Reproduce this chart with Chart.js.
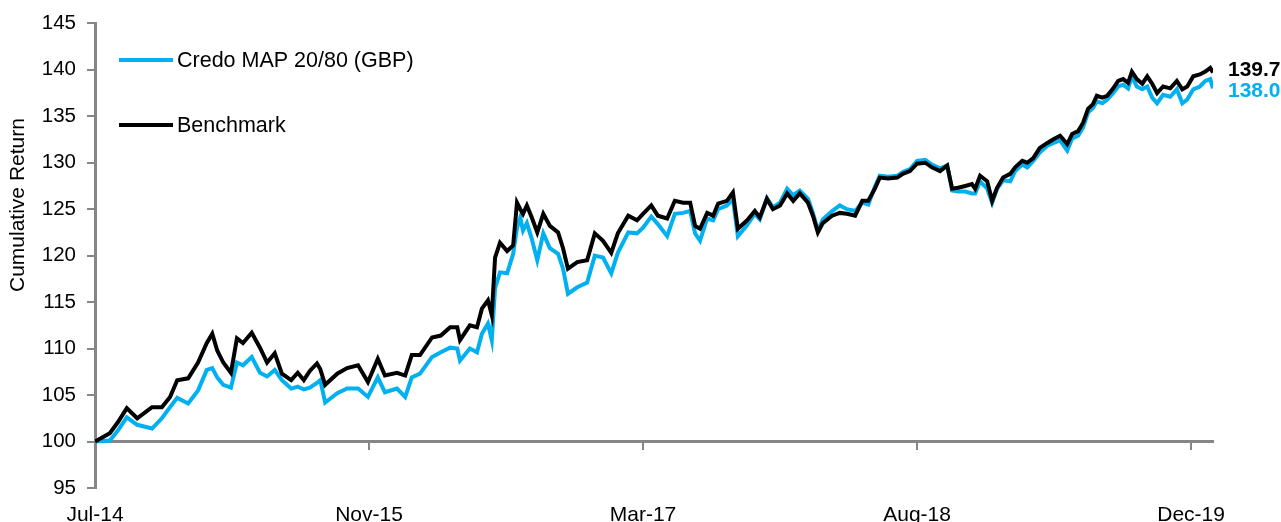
<!DOCTYPE html>
<html>
<head>
<meta charset="utf-8">
<title>Cumulative Return</title>
<script src="https://cdn.jsdelivr.net/npm/chart.js@4.4.1/dist/chart.umd.min.js"></script>
<style>
  html, body { margin: 0; padding: 0; background: #fff; }
  #wrap { width: 1281px; height: 522px; }
</style>
</head>
<body>
<div id="wrap"><canvas id="returnChart" width="1281" height="522"></canvas></div>
<script>
// days since 1 Jul 2014
const days = [0, 27, 42, 58, 77, 104, 122, 137, 150, 170, 188, 204, 214, 223, 234, 248, 259, 270, 286, 301,
    314, 328, 341, 358, 370, 381, 392, 405, 411, 420, 442, 460, 480, 498, 516, 529, 551, 566, 578, 593,
    615, 631, 648, 661, 666, 684, 697, 706, 717, 724, 730, 739, 752, 763, 770, 776, 781, 788, 797, 807,
    818, 830, 845, 854, 863, 880, 898, 912, 927, 942, 954, 973, 989, 1000, 1015, 1027, 1044, 1058, 1073, 1086,
    1095, 1104, 1117, 1128, 1137, 1153, 1164, 1173, 1190, 1204, 1213, 1226, 1237, 1250, 1263, 1274, 1286, 1301, 1310, 1319,
    1328, 1345, 1359, 1372, 1387, 1400, 1411, 1423, 1432, 1447, 1464, 1474, 1487, 1500, 1515, 1527, 1542, 1555, 1564, 1575,
    1588, 1600, 1606, 1615, 1628, 1637, 1646, 1657, 1670, 1679, 1692, 1701, 1712, 1724, 1737, 1748, 1761, 1774, 1783, 1794,
    1803, 1812, 1821, 1828, 1838, 1847, 1858, 1867, 1876, 1885, 1892, 1901, 1911, 1920, 1929, 1938, 1949, 1962, 1974, 1984,
    1993, 2004, 2016, 2026, 2035, 2040];

const fund = [100.0, 100.1, 101.2, 102.6, 101.8, 101.4, 102.5, 103.7, 104.7, 104.1, 105.5, 107.7, 107.9, 106.9, 106.1, 105.8, 108.5, 108.2, 109.1, 107.4,
    107.0, 107.7, 106.6, 105.7, 105.9, 105.6, 105.8, 106.3, 106.6, 104.2, 105.2, 105.7, 105.7, 104.8, 106.9, 105.3, 105.7, 104.8, 106.9, 107.3,
    109.1, 109.6, 110.1, 110.0, 108.7, 110.0, 109.6, 111.6, 112.7, 110.9, 116.5, 118.2, 118.1, 120.2, 123.0, 124.1, 122.7, 123.5, 121.8, 119.5,
    122.4, 120.8, 120.2, 118.6, 115.9, 116.6, 117.1, 120.0, 119.8, 118.1, 120.3, 122.5, 122.4, 123.0, 124.2, 123.4, 122.1, 124.5, 124.6, 124.8,
    122.4, 121.6, 124.0, 123.8, 125.0, 125.4, 126.1, 122.1, 123.3, 124.5, 123.9, 126.2, 125.2, 125.7, 127.2, 126.5, 127.0, 126.1, 124.6, 122.7,
    123.9, 124.8, 125.4, 125.0, 124.8, 125.7, 125.5, 127.4, 128.6, 128.5, 128.6, 129.0, 129.3, 130.2, 130.3, 129.8, 129.4, 129.7, 127.0, 126.9,
    126.9, 126.7, 126.7, 128.0, 127.2, 125.7, 127.2, 128.1, 128.0, 129.1, 129.8, 129.5, 130.2, 131.1, 131.8, 132.1, 132.4, 131.3, 132.6, 132.9,
    133.8, 135.4, 135.9, 136.6, 136.4, 136.8, 137.5, 138.2, 138.4, 138.0, 139.3, 138.2, 137.9, 138.2, 137.0, 136.4, 137.3, 137.1, 137.9, 136.4,
    136.8, 137.9, 138.2, 138.8, 139.0, 138.0];

const benchmark = [100.0, 100.9, 102.1, 103.6, 102.5, 103.7, 103.7, 104.8, 106.6, 106.8, 108.5, 110.6, 111.6, 109.8, 108.5, 107.4, 111.1, 110.6, 111.7, 110.1,
    108.5, 109.5, 107.3, 106.6, 107.4, 106.6, 107.6, 108.4, 107.8, 106.1, 107.3, 107.9, 108.2, 106.4, 108.9, 107.1, 107.4, 107.1, 109.3, 109.3,
    111.2, 111.4, 112.3, 112.3, 110.9, 112.5, 112.3, 114.3, 115.2, 113.6, 119.8, 121.4, 120.5, 121.1, 125.7, 125.0, 124.5, 125.4, 124.1, 122.5,
    124.5, 123.2, 122.5, 120.8, 118.6, 119.3, 119.5, 122.4, 121.6, 120.3, 122.4, 124.3, 123.8, 124.5, 125.4, 124.3, 124.0, 125.9, 125.7, 125.7,
    123.2, 122.9, 124.6, 124.3, 125.6, 125.9, 126.8, 122.9, 123.8, 124.8, 124.1, 126.1, 125.0, 125.4, 126.7, 125.9, 126.7, 125.7, 124.3, 122.5,
    123.5, 124.3, 124.6, 124.5, 124.3, 125.9, 125.9, 127.2, 128.4, 128.3, 128.4, 128.8, 129.1, 129.9, 130.0, 129.5, 129.1, 129.7, 127.2, 127.3,
    127.5, 127.7, 127.2, 128.6, 128.0, 125.9, 127.3, 128.4, 128.8, 129.5, 130.2, 130.0, 130.5, 131.6, 132.1, 132.5, 132.9, 132.0, 133.1, 133.4,
    134.3, 135.8, 136.3, 137.2, 137.0, 137.2, 138.0, 138.8, 139.0, 138.6, 139.8, 139.0, 138.5, 139.3, 138.5, 137.5, 138.2, 138.0, 138.8, 137.9,
    138.2, 139.3, 139.5, 139.8, 140.2, 139.7];

const tickDays = [0, 500, 1000, 1500, 2000];
const tickLabels = ["Jul-14", "Nov-15", "Mar-17", "Aug-18", "Dec-19"];
const seriesNames = ["Credo MAP 20/80 (GBP)", "Benchmark"];

const FUND_COLOR = "#00B0F0";
const BENCH_COLOR = "#000000";
const AXIS_COLOR = "#868686";
const FONT = "'Liberation Sans', Arial, sans-serif";

function toPoints(values) {
    return values.map((v, i) => ({ x: days[i], y: v }));
}

function setTicks(scale) {
    scale.ticks = tickDays.map(v => ({ value: v }));
}

// legend, axis title and end-value labels drawn on the canvas
const annotations = {
    id: "annotations",
    afterDraw(chart) {
        const ctx = chart.ctx;
        ctx.save();

        // legend
        const legendRows = [
            { name: seriesNames[0], color: FUND_COLOR, y: 60 },
            { name: seriesNames[1], color: BENCH_COLOR, y: 125 }
        ];
        legendRows.forEach(row => {
            ctx.strokeStyle = row.color;
            ctx.lineWidth = 4;
            ctx.beginPath();
            ctx.moveTo(119, row.y);
            ctx.lineTo(173, row.y);
            ctx.stroke();
            ctx.fillStyle = "#000";
            ctx.font = "21.5px " + FONT;
            ctx.textAlign = "left";
            ctx.textBaseline = "middle";
            ctx.fillText(row.name, 177, row.y + 1);
        });

        // y axis title
        ctx.save();
        ctx.translate(18, 292);
        ctx.rotate(-Math.PI / 2);
        ctx.font = "21px " + FONT;
        ctx.fillStyle = "#000";
        ctx.textAlign = "left";
        ctx.textBaseline = "middle";
        ctx.fillText("Cumulative Return", 0, 0);
        ctx.restore();

        // last values
        ctx.font = "bold 21px " + FONT;
        ctx.textAlign = "left";
        ctx.textBaseline = "middle";
        ctx.fillStyle = BENCH_COLOR;
        ctx.fillText(benchmark[benchmark.length - 1].toFixed(1), 1228, 70);
        ctx.fillStyle = FUND_COLOR;
        ctx.fillText(fund[fund.length - 1].toFixed(1), 1228, 91);

        ctx.restore();
    }
};

const ctx = document.getElementById("returnChart").getContext("2d");
new Chart(ctx, {
    type: "line",
    data: {
        datasets: [
            {
                label: seriesNames[0],
                data: toPoints(fund),
                borderColor: FUND_COLOR,
                borderWidth: 4,
                pointRadius: 0,
                tension: 0,
                order: 1
            },
            {
                label: seriesNames[1],
                data: toPoints(benchmark),
                borderColor: BENCH_COLOR,
                borderWidth: 4,
                pointRadius: 0,
                tension: 0,
                order: 0
            }
        ]
    },
    options: {
        responsive: false,
        animation: false,
        layout: { padding: { left: 0, top: 22, right: 68, bottom: 0 } },
        plugins: {
            legend: { display: false },
            tooltip: { enabled: false },
            title: { display: false }
        },
        scales: {
            x: {
                type: "linear",
                position: "bottom",
                min: 0,
                max: 2040,
                afterBuildTicks: setTicks,
                afterFit: scale => { scale.height = 34; },
                grid: { display: false, drawTicks: false },
                border: { display: false },
                ticks: {
                    padding: 15,
                    color: "#000",
                    font: { family: FONT, size: 21 },
                    maxRotation: 0,
                    callback: value => tickLabels[tickDays.indexOf(value)]
                }
            },
            x100: {
                type: "linear",
                position: { y: 100 },
                min: 0,
                max: 2040,
                afterBuildTicks: setTicks,
                grid: {
                    drawOnChartArea: false,
                    drawTicks: true,
                    tickLength: 7,
                    color: AXIS_COLOR,
                    lineWidth: 2
                },
                border: { display: true, color: AXIS_COLOR, width: 3 },
                ticks: { display: false }
            },
            y: {
                position: "left",
                min: 95,
                max: 145,
                afterFit: scale => { scale.width = 95; },
                grid: {
                    drawOnChartArea: false,
                    drawTicks: true,
                    tickLength: 8,
                    color: AXIS_COLOR,
                    lineWidth: 2
                },
                border: { display: true, color: AXIS_COLOR, width: 3 },
                ticks: {
                    stepSize: 5,
                    padding: 11,
                    color: "#000",
                    font: { family: FONT, size: 20.5 }
                }
            }
        }
    },
    plugins: [annotations]
});
</script>
</body>
</html>
